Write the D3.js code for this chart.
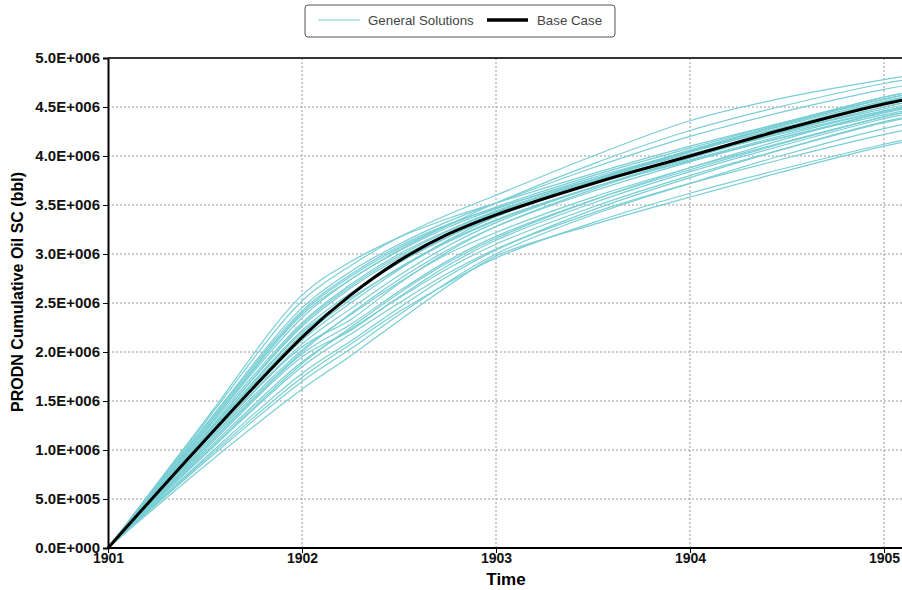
<!DOCTYPE html>
<meta charset="utf-8">
<script src="https://d3js.org/d3.v7.min.js"></script>
<style>
  body { margin: 0; background: #fff; }
  text { font-family: "Liberation Sans", Arial, sans-serif; }
</style>
<div id="chart"></div>
<script>

// time points (years) and cumulative oil, in millions of bbl
var times = [1901, 1901.5, 1902, 1902.25, 1902.5, 1902.75, 1903, 1903.5, 1904, 1904.5, 1905, 1905.2];

var baseCase = [0, 1.10, 2.15, 2.58, 2.93, 3.20, 3.40, 3.72, 4.00, 4.28, 4.53, 4.61];

var generalSolutions = [
  [0, 1.30, 2.58, 2.92, 3.17, 3.36, 3.52, 3.82, 4.10, 4.35, 4.58, 4.66],
  [0, 1.28, 2.52, 2.88, 3.17, 3.40, 3.60, 4.00, 4.36, 4.60, 4.78, 4.84],
  [0, 1.25, 2.45, 2.82, 3.10, 3.33, 3.52, 3.88, 4.20, 4.46, 4.68, 4.75],
  [0, 1.22, 2.40, 2.77, 3.06, 3.29, 3.48, 3.80, 4.08, 4.35, 4.60, 4.68],
  [0, 1.20, 2.35, 2.74, 3.03, 3.27, 3.46, 3.78, 4.05, 4.32, 4.56, 4.64],
  [0, 1.18, 2.30, 2.69, 3.00, 3.24, 3.44, 3.76, 4.04, 4.30, 4.54, 4.62],
  [0, 1.16, 2.26, 2.65, 2.96, 3.21, 3.42, 3.76, 4.06, 4.34, 4.60, 4.68],
  [0, 1.14, 2.22, 2.60, 2.91, 3.17, 3.38, 3.72, 4.00, 4.26, 4.50, 4.58],
  [0, 1.12, 2.20, 2.55, 2.85, 3.12, 3.34, 3.68, 3.96, 4.22, 4.46, 4.54],
  [0, 1.10, 2.12, 2.50, 2.84, 3.14, 3.38, 3.75, 4.05, 4.33, 4.58, 4.66],
  [0, 1.08, 2.08, 2.44, 2.78, 3.08, 3.32, 3.68, 3.98, 4.25, 4.50, 4.58],
  [0, 1.06, 2.05, 2.33, 2.70, 3.02, 3.28, 3.66, 3.98, 4.27, 4.53, 4.61],
  [0, 1.05, 2.02, 2.38, 2.71, 3.00, 3.22, 3.58, 3.88, 4.15, 4.40, 4.48],
  [0, 1.02, 1.98, 2.28, 2.62, 2.93, 3.18, 3.55, 3.86, 4.14, 4.40, 4.48],
  [0, 1.00, 1.95, 2.22, 2.56, 2.88, 3.14, 3.52, 3.84, 4.12, 4.38, 4.46],
  [0, 0.98, 1.90, 2.23, 2.55, 2.85, 3.10, 3.48, 3.80, 4.08, 4.34, 4.42],
  [0, 0.95, 1.85, 2.18, 2.50, 2.80, 3.05, 3.42, 3.72, 3.98, 4.22, 4.30],
  [0, 0.92, 1.78, 2.11, 2.45, 2.77, 3.04, 3.45, 3.78, 4.08, 4.35, 4.43],
  [0, 0.88, 1.70, 2.03, 2.38, 2.71, 3.00, 3.40, 3.72, 4.02, 4.28, 4.36],
  [0, 0.84, 1.62, 1.96, 2.32, 2.67, 2.98, 3.30, 3.58, 3.85, 4.10, 4.18],
  [0, 1.24, 2.42, 2.79, 3.08, 3.30, 3.47, 3.76, 4.02, 4.26, 4.48, 4.56],
  [0, 1.15, 2.28, 2.67, 2.98, 3.23, 3.43, 3.74, 4.00, 4.24, 4.46, 4.53],
  [0, 1.09, 2.15, 2.53, 2.86, 3.13, 3.35, 3.68, 3.95, 4.20, 4.42, 4.50],
  [0, 1.03, 2.00, 2.39, 2.74, 3.04, 3.28, 3.64, 3.94, 4.20, 4.44, 4.52],
  [0, 0.96, 1.88, 2.25, 2.60, 2.91, 3.16, 3.55, 3.88, 4.18, 4.45, 4.53],
  [0, 1.20, 2.38, 2.74, 3.04, 3.29, 3.52, 3.92, 4.26, 4.52, 4.74, 4.80],
  [0, 0.90, 1.74, 2.08, 2.41, 2.70, 2.96, 3.32, 3.62, 3.88, 4.12, 4.20],
  [0, 1.12, 2.18, 2.58, 2.91, 3.17, 3.40, 3.74, 4.04, 4.30, 4.55, 4.63]
];

var yearTicks = [1901, 1902, 1903, 1904, 1905];
var oilTicks = [0, 0.5, 1, 1.5, 2, 2.5, 3, 3.5, 4, 4.5, 5];

var W = 902, H = 590;
var plotLeft = 108, plotTop = 58, plotBottom = 548;

var svg = d3.select("#chart").append("svg")
    .attr("width", W)
    .attr("height", H);

var x = d3.scaleLinear().domain([1901, 1905]).range([plotLeft, 884]);
var y = d3.scaleLinear().domain([0, 5]).range([plotBottom, plotTop]);

// 5.0E+006 style labels
function sci(v) {
  var n = Math.round(v * 1e6);
  if (n === 0) return "0.0E+000";
  var e = Math.floor(Math.log10(n) + 1e-9);
  return (n / Math.pow(10, e)).toFixed(1) + "E+" + String(e).padStart(3, "0");
}

// grid
svg.append("g")
  .selectAll("line")
  .data(oilTicks.slice(1, -1))
  .join("line")
    .attr("x1", plotLeft).attr("x2", W)
    .attr("y1", d => y(d)).attr("y2", d => y(d))
    .attr("stroke", "#999")
    .attr("stroke-width", 1)
    .attr("stroke-dasharray", "2,2");

svg.append("g")
  .selectAll("line")
  .data(yearTicks.slice(1))
  .join("line")
    .attr("x1", d => x(d)).attr("x2", d => x(d))
    .attr("y1", plotTop).attr("y2", plotBottom)
    .attr("stroke", "#999")
    .attr("stroke-width", 1)
    .attr("stroke-dasharray", "2,2");

var line = d3.line()
  .x((d, i) => x(times[i]))
  .y(d => y(d))
  .curve(d3.curveCatmullRom.alpha(0.5));

svg.append("g")
  .selectAll("path")
  .data(generalSolutions)
  .join("path")
    .attr("d", line)
    .attr("fill", "none")
    .attr("stroke", "#78ced4")
    .attr("stroke-width", 1.2);

svg.append("path")
  .attr("d", line(baseCase))
  .attr("fill", "none")
  .attr("stroke", "#000")
  .attr("stroke-width", 3);

// axes
var yAxis = svg.append("g")
  .attr("transform", "translate(" + plotLeft + ",0)")
  .call(d3.axisLeft(y).tickValues(oilTicks).tickFormat(sci).tickSizeOuter(0).tickSize(5).tickPadding(3));
yAxis.select(".domain").attr("stroke-width", 2);
yAxis.selectAll("text")
  .attr("font-size", 15).attr("font-weight", "bold").attr("fill", "#111")
  .attr("font-family", "Liberation Sans, Arial, sans-serif");

var xAxis = svg.append("g")
  .attr("transform", "translate(0," + plotBottom + ")")
  .call(d3.axisBottom(x).tickValues(yearTicks).tickFormat(d3.format("d")).tickSizeOuter(0).tickSize(5).tickPadding(2));
xAxis.select(".domain").attr("stroke-width", 2).attr("d", "M" + plotLeft + ",0H" + W);
xAxis.selectAll("text")
  .attr("font-size", 14).attr("font-weight", "bold").attr("fill", "#111")
  .attr("dy", "0.6em")
  .attr("font-family", "Liberation Sans, Arial, sans-serif");

// top border
svg.append("line")
  .attr("x1", plotLeft).attr("x2", W)
  .attr("y1", plotTop).attr("y2", plotTop)
  .attr("stroke", "#333")
  .attr("stroke-width", 2);

// axis titles
svg.append("text")
  .attr("x", 506).attr("y", 585)
  .attr("text-anchor", "middle")
  .attr("font-size", 17).attr("font-weight", "bold")
  .text("Time");

svg.append("text")
  .attr("transform", "translate(23,292) rotate(-90)")
  .attr("text-anchor", "middle")
  .attr("font-size", 16).attr("font-weight", "bold")
  .text("PRODN Cumulative Oil SC (bbl)");

// legend
var lg = svg.append("g");
lg.append("rect")
  .attr("x", 305).attr("y", 5).attr("width", 310).attr("height", 32)
  .attr("rx", 3)
  .attr("fill", "#fff").attr("stroke", "#555").attr("stroke-width", 1);
lg.append("line")
  .attr("x1", 318).attr("x2", 360).attr("y1", 20).attr("y2", 20)
  .attr("stroke", "#9fdde0").attr("stroke-width", 1.3);
lg.append("text")
  .attr("x", 368).attr("y", 24.5)
  .attr("font-size", 13.3).attr("fill", "#444")
  .text("General Solutions");
lg.append("line")
  .attr("x1", 487).attr("x2", 528).attr("y1", 20).attr("y2", 20)
  .attr("stroke", "#000").attr("stroke-width", 3.5);
lg.append("text")
  .attr("x", 537).attr("y", 24.5)
  .attr("font-size", 13.3).attr("fill", "#444")
  .text("Base Case");

</script>
